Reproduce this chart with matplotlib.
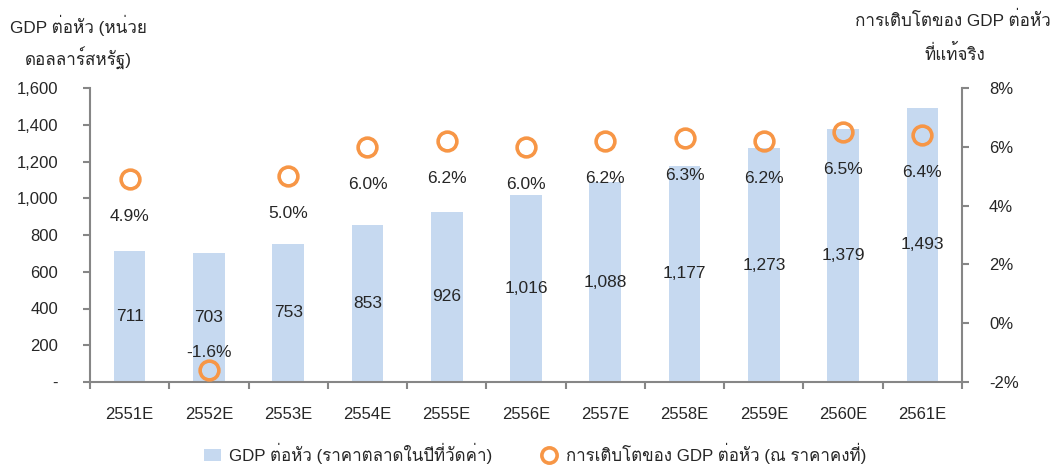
import matplotlib
matplotlib.use("Agg")
import matplotlib.pyplot as plt
import numpy as np
from matplotlib.ticker import FuncFormatter, FixedLocator
from matplotlib.lines import Line2D
from matplotlib.patches import Patch

plt.rcParams["font.family"] = ["Liberation Sans", "Loma"]

# ── Data ──────────────────────────────────────────────
years = ["2551E", "2552E", "2553E", "2554E", "2555E", "2556E",
         "2557E", "2558E", "2559E", "2560E", "2561E"]
gdp_per_capita = [711, 703, 753, 853, 926, 1016, 1088, 1177, 1273, 1379, 1493]
real_growth = [4.9, -1.6, 5.0, 6.0, 6.2, 6.0, 6.2, 6.3, 6.2, 6.5, 6.4]

# ── Style ─────────────────────────────────────────────
C_BAR = "#c6d9f0"
C_DOT = "#f79646"
C_AXIS = "#868686"
C_TEXT = "#262626"

fig = plt.figure(figsize=(10.54, 4.66), dpi=100)
ax = fig.add_axes([90 / 1054, 1 - 382 / 466, (962 - 90) / 1054, (382 - 88) / 466])
ax2 = ax.twinx()

x = np.arange(len(years))
ax.bar(x, gdp_per_capita, width=0.4, color=C_BAR, zorder=2)
ax.set_xlim(-0.5, len(years) - 0.5)
ax.set_ylim(0, 1600)
ax.set_yticks(range(0, 1601, 200))
ax.yaxis.set_major_formatter(FuncFormatter(lambda v, p: "-" if v == 0 else f"{int(v):,}"))

for xi, v in zip(x, gdp_per_capita):
    ax.text(xi, v / 2, f"{v:,}", ha="center", va="center",
            fontsize=12.5, color=C_TEXT, zorder=5)

ax2.plot(x, real_growth, linestyle="none", marker="o", markersize=13.5,
         markerfacecolor="none", markeredgecolor=C_DOT, markeredgewidth=2.6,
         zorder=4)
ax2.set_ylim(-2, 8)
ax2.set_yticks(range(-2, 9, 2))
ax2.yaxis.set_major_formatter(FuncFormatter(lambda v, p: f"{int(v)}%"))

for xi, v in zip(x, real_growth):
    off = 13 if v < 0 else -27
    ax2.annotate(f"{v:.1f}%", (xi, v), xytext=(0, off), textcoords="offset points",
                 ha="center", va="center", fontsize=12.5, color=C_TEXT, zorder=5)

# ── Axes styling ──────────────────────────────────────
for a in (ax, ax2):
    a.spines["top"].set_visible(False)
    for s in ("left", "right", "bottom"):
        a.spines[s].set_color(C_AXIS)
        a.spines[s].set_linewidth(1.5)
ax.spines["right"].set_visible(False)
ax2.spines["left"].set_visible(False)
ax2.spines["bottom"].set_visible(False)

ax.set_xticks(x)
ax.set_xticklabels(years)
ax.xaxis.set_minor_locator(FixedLocator(np.arange(-0.5, len(years), 1.0)))
ax.tick_params(axis="x", which="major", length=0, pad=18, labelsize=12, labelcolor=C_TEXT)
ax.tick_params(axis="x", which="minor", length=5, width=1.5, color=C_AXIS, direction="out")
ax.tick_params(axis="y", length=5, width=1.5, color=C_AXIS, pad=18,
               labelsize=12, labelcolor=C_TEXT)
ax2.tick_params(axis="y", length=5, width=1.5, color=C_AXIS, pad=14.5,
                labelsize=12, labelcolor=C_TEXT)

# ── Axis titles ───────────────────────────────────────
fig.text(78 / 1054, 1 - 25 / 466, "GDP ต่อหัว (หน่วย", ha="center", va="center",
         fontsize=12.3, color=C_TEXT)
fig.text(78 / 1054, 1 - 58 / 466, "ดอลลาร์สหรัฐ)", ha="center", va="center",
         fontsize=12.3, color=C_TEXT)
fig.text(953 / 1054, 1 - 20 / 466, "การเติบโตของ GDP ต่อหัว", ha="center", va="center",
         fontsize=12.3, color=C_TEXT)
fig.text(955 / 1054, 1 - 53 / 466, "ที่แท้จริง", ha="center", va="center",
         fontsize=12.3, color=C_TEXT)

# ── Legend ────────────────────────────────────────────
handles = [
    Patch(facecolor=C_BAR, edgecolor="none"),
    Line2D([], [], linestyle="none", marker="o", markersize=11,
           markerfacecolor="none", markeredgecolor=C_DOT, markeredgewidth=2.6),
]
labels = ["GDP ต่อหัว (ราคาตลาดในปีที่วัดค่า)", "การเติบโตของ GDP ต่อหัว (ณ ราคาคงที่)"]
fig.legend(handles, labels, loc="center", bbox_to_anchor=(535 / 1054, 1 - 453 / 466),
           ncol=2, frameon=False, fontsize=12.2, handlelength=1.0, handletextpad=0.5,
           columnspacing=2.8, labelcolor=C_TEXT)

fig.savefig("out.png", dpi=100)
